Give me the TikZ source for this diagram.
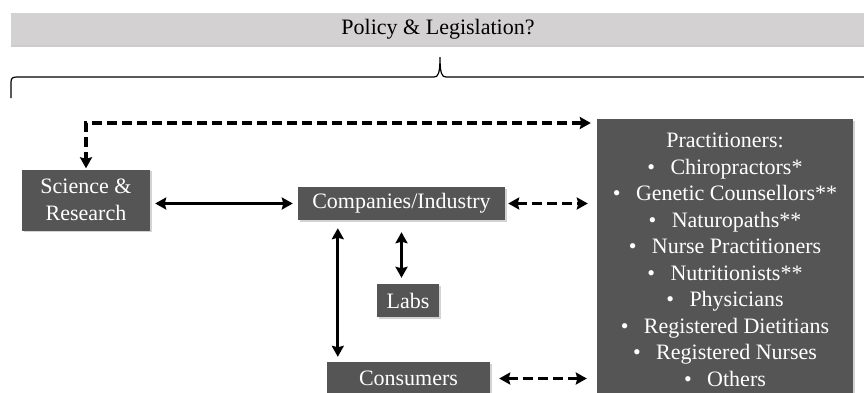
\documentclass[tikz,border=0pt]{standalone}
\usepackage{fontspec}
\setmainfont{Liberation Serif}
\usepackage{xcolor}
\usepackage{tikz}
\usetikzlibrary{arrows.meta,shadows}

\definecolor{boxgray}{RGB}{85,85,85}
\definecolor{bargray}{RGB}{211,209,210}

\begin{document}
\begin{tikzpicture}[
  x=1pt, y=-1pt,
  every node/.style={font=\fontsize{22}{26.5}\selectfont},
  box/.style={fill=boxgray, text=white, inner sep=0pt, align=center,
    drop shadow={shadow xshift=1.5pt, shadow yshift=-1.5pt, opacity=0.35}},
  bar/.style={fill=bargray, inner sep=0pt,
    drop shadow={shadow xshift=0pt, shadow yshift=-2pt, opacity=0.4}},
  twoway/.style={{Stealth[length=11pt,width=12pt,inset=1.5pt]}-{Stealth[length=11pt,width=12pt,inset=1.5pt]},
    line width=3.3pt, shorten >=6pt, shorten <=6pt},
  dashway/.style={twoway, dash pattern=on 10pt off 5pt}
]
  \clip (0,0) rectangle (864,392);

  \node[bar, minimum width=854, minimum height=32] (policy) at (438,29) {Policy \& Legislation?};

  % brace under the policy bar
  \draw[line width=1.2pt] (11,98) -- (11,82) .. controls (11,78) and (13,77) .. (17,77)
    -- (434,77) .. controls (438,77) and (440,74) .. (440,57)
    .. controls (440,74) and (442,77) .. (446,77) -- (870,77);

  \node[box, minimum width=128, minimum height=61] (sci) at (86,200) {Science \&\\Research};
  \node[box, minimum width=207, minimum height=33] (comp) at (401.5,203.5) {Companies/Industry};
  \node[box, minimum width=62, minimum height=33] (labs) at (408,300.5) {Labs};
  \node[box, minimum width=163, minimum height=33] (cons) at (408.5,378.5) {Consumers};
  \node[box, minimum width=256, minimum height=282] (prac) at (725,260) {Practitioners:\\
    \textbullet\hspace{0.7em}Chiropractors*\\
    \textbullet\hspace{0.7em}Genetic Counsellors**\\
    \textbullet\hspace{0.7em}Naturopaths**\\
    \textbullet\hspace{0.7em}Nurse Practitioners\\
    \textbullet\hspace{0.7em}Nutritionists**\\
    \textbullet\hspace{0.7em}Physicians\\
    \textbullet\hspace{0.7em}Registered Dietitians\\
    \textbullet\hspace{0.7em}Registered Nurses\\
    \textbullet\hspace{0.7em}Others};

  \coordinate (lane) at (0,123);
  \coordinate (cv) at ([xshift=40]comp.south west);

  \draw[dashway, shorten >=1pt] (prac.west |- lane) -| (sci.north);
  \draw[twoway, shorten <=5pt, shorten >=5pt] (sci.east |- comp) -- (comp.west);
  \draw[dashway, shorten <=3pt, shorten >=9pt] (comp.east) -- (prac.west |- comp);
  \draw[twoway, shorten <=8pt, shorten >=5pt] (cv) -- (cv |- cons.north);
  \draw[twoway, shorten <=12pt, shorten >=6pt] (comp.south) -- (comp.south |- labs.north);
  \draw[dashway, shorten <=9pt, shorten >=10pt] (cons.east) -- (prac.west |- cons);
\end{tikzpicture}
\end{document}
